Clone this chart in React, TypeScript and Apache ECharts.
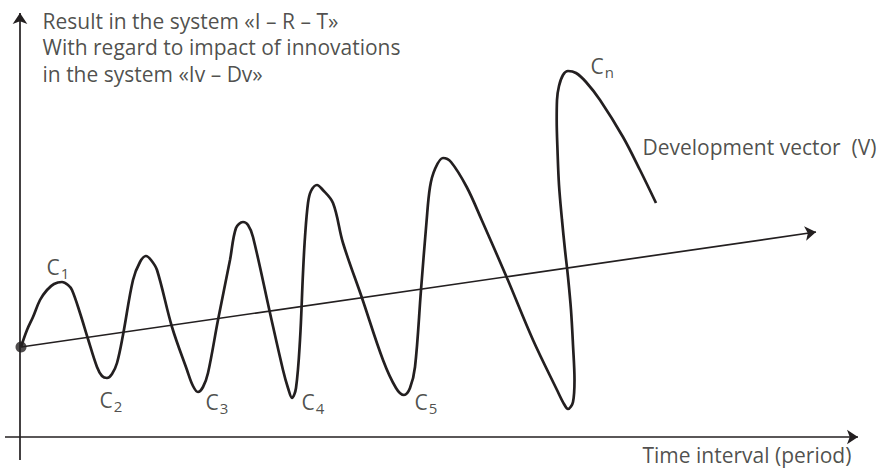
import React, { useEffect, useRef } from "react";
import * as echarts from "echarts";

const INK = "#231f20";
const FONT = "'Open Sans', 'Noto Sans', sans-serif";

// Oscillating result curve: time (from the result axis) and result (above the time axis)
const curveTime = [
  1, 7, 13, 20, 27, 34, 42, 48, 52, 60, 68, 77, 82, 87, 92, 97, 103, 113, 120, 126, 131, 137,
  152, 167, 173, 178, 183, 188, 198, 210, 216, 223, 228, 233, 250, 263, 268, 272, 276, 280, 283,
  285, 288, 291, 297, 302, 313, 323, 342, 363, 376, 384, 390, 395, 401, 406.5, 410, 415, 423, 431,
  446.7, 461.7, 487, 513, 537, 544, 548, 553, 554.5, 553, 551, 548, 545, 542, 539, 537.5, 536.7,
  537, 539, 543, 548, 556, 566, 580, 603, 620, 636,
];
const curveResult = [
  90, 107, 120, 137, 147, 153, 155, 152, 147, 124, 98, 70, 61, 59, 63, 74, 102, 157, 175, 181, 177,
  167, 110, 67, 51, 45, 50, 64, 117, 177, 209, 215, 212, 200, 124, 67, 49, 39, 49, 97, 164, 200,
  234, 246, 252, 248, 234, 194, 139, 77, 49, 42, 49, 70, 147, 215, 250, 268, 279, 275, 250, 217,
  159, 97, 47, 33, 28, 35, 57, 92, 127, 160, 187, 217, 252, 287, 317, 337, 351, 362, 366, 364, 355,
  337, 300, 267, 234,
];

// Development vector (V): start and end
const vectorTime = [1, 796];
const vectorResult = [90, 205];

// Axes extents
const timeAxisTime = [-15, 838];
const timeAxisResult = [0, 0];
const resultAxisTime = [0, 0];
const resultAxisResult = [-23, 424];

// Cycle labels
const cycleSubs = ["1", "2", "3", "4", "5", "n"];
const cycleLabelTime = [27, 80, 186, 282, 395, 571];
const cycleLabelResult = [170, 37, 35, 35, 35, 371];

// Text annotations
const titleLines = [
  "Result in the system «I – R – T»",
  "With regard to impact of innovations",
  "in the system «Iv – Dv»",
];
const titleAt = [23, 429];
const vectorText = "Development vector  (V)";
const vectorTextAt = [623, 290];
const timeText = "Time interval (period)";
const timeTextAt = [623, -18];

export default function App() {
  const ref = useRef<HTMLDivElement>(null);
  useEffect(() => {
    if (!ref.current) return;
    const chart = echarts.init(ref.current, null, { renderer: "svg" });
    const arrowLine = (name: string, ts: number[], vs: number[], width: number) => ({
      name,
      type: "lines",
      coordinateSystem: "cartesian2d",
      silent: true,
      symbol: ["none", "arrow"],
      symbolSize: 11,
      lineStyle: { color: INK, width, opacity: 1 },
      itemStyle: { color: INK },
      data: [{ coords: [[ts[0], vs[0]], [ts[1], vs[1]]] }],
      z: 3,
    });
    const textPoint = (name: string, at: number[], text: string, extra: any = {}) => ({
      name,
      type: "scatter",
      silent: true,
      symbolSize: 1,
      itemStyle: { color: "rgba(0,0,0,0)" },
      data: [{ value: at }],
      label: {
        show: true,
        position: [0, 0],
        align: "left",
        verticalAlign: "middle",
        formatter: () => text,
        color: INK,
        fontFamily: FONT,
        fontSize: 21,
        ...extra,
      },
      z: 5,
    });
    chart.setOption({
      animation: false,
      grid: { left: 0, top: 0, right: 0, bottom: 0 },
      xAxis: { type: "value", min: -20, max: 866, show: false },
      yAxis: { type: "value", min: -31, max: 437, show: false },
      series: [
        arrowLine("time axis", timeAxisTime, timeAxisResult, 1.7),
        arrowLine("result axis", resultAxisTime, resultAxisResult, 1.7),
        arrowLine("development vector", vectorTime, vectorResult, 1.7),
        {
          name: "result",
          type: "line",
          silent: true,
          smooth: 0.35,
          symbol: "none",
          lineStyle: { color: INK, width: 2.7 },
          data: curveTime.map((t, i) => [t, curveResult[i]]),
          z: 4,
        },
        {
          name: "origin",
          type: "scatter",
          silent: true,
          symbolSize: 11,
          itemStyle: { color: INK },
          data: [[curveTime[0], curveResult[0]]],
          z: 6,
        },
        {
          name: "cycles",
          type: "scatter",
          silent: true,
          symbolSize: 1,
          itemStyle: { color: "rgba(0,0,0,0)" },
          data: cycleSubs.map((s, i) => ({ name: s, value: [cycleLabelTime[i], cycleLabelResult[i]] })),
          label: {
            show: true,
            position: [0, 0],
            align: "left",
            verticalAlign: "middle",
            formatter: (p: any) => `{c|C}{s|${p.name}}`,
            rich: {
              c: { fontSize: 21, fontFamily: FONT, color: INK },
              s: { fontSize: 15, fontFamily: FONT, color: INK, padding: [13, 0, 0, 1] },
            },
          },
          z: 5,
        },
        textPoint("title", titleAt, titleLines.join("\n"), { verticalAlign: "top", lineHeight: 26.5 }),
        textPoint("vector text", vectorTextAt, vectorText),
        textPoint("time text", timeTextAt, timeText),
      ],
    });
    return () => chart.dispose();
  }, []);
  return (
    <div
      ref={ref}
      style={{ position: "absolute", left: 0, top: 0, width: 886, height: 468, background: "#fff" }}
    />
  );
}
